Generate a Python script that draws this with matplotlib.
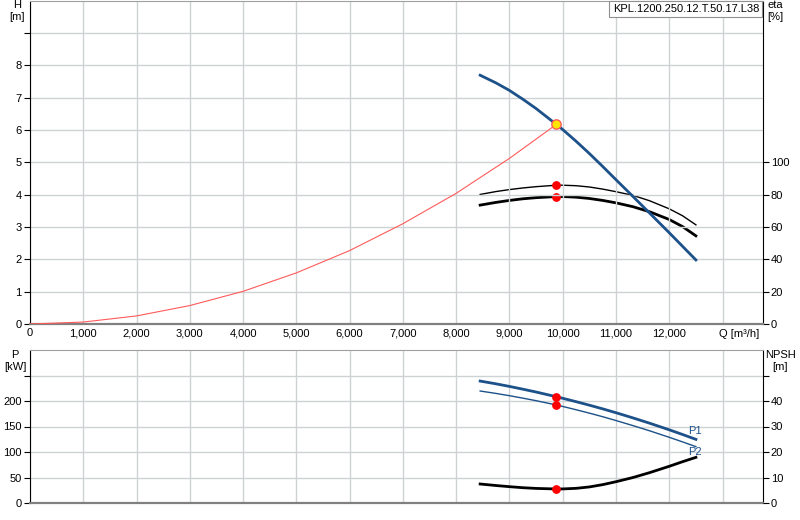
import matplotlib
matplotlib.use("Agg")
import matplotlib.pyplot as plt

# --- data ---
pump_title = "KPL.1200.250.12.T.50.17.L38"

q_pump = [8450, 8750, 9000, 9250, 9500, 9880, 10000, 10250, 10500, 10750,
          11000, 11320, 11630, 12000, 12250, 12500]
head = [7.69, 7.45, 7.22, 6.95, 6.66, 6.17, 6.01, 5.65, 5.27, 4.87,
        4.46, 3.94, 3.43, 2.82, 2.40, 1.98]

q_sys = [0, 1000, 2000, 3000, 4000, 5000, 6000, 7000, 8000, 9000, 9880]
h_sys = [0.0, 0.06, 0.25, 0.57, 1.01, 1.58, 2.27, 3.10, 4.04, 5.12, 6.17]

eta_hyd = [80.1, 81.9, 83.1, 84.1, 84.9, 85.8, 85.8, 85.5, 84.7, 83.4,
           81.8, 79.5, 76.2, 71.2, 66.9, 61.3]
eta_tot = [73.5, 75.2, 76.4, 77.4, 78.1, 78.8, 78.8, 78.4, 77.6, 76.4,
           74.9, 72.5, 69.4, 64.6, 60.2, 54.5]

p1 = [239.1, 233.6, 228.6, 223.2, 217.6, 208.4, 205.3, 198.7, 191.8, 184.6,
      177.0, 166.8, 156.5, 143.5, 134.3, 124.8]
p2 = [219.6, 214.8, 210.4, 205.6, 200.6, 192.2, 189.3, 182.9, 176.2, 169.2,
      161.7, 151.7, 141.6, 128.8, 119.8, 110.5]
npsh = [7.45, 6.85, 6.40, 6.00, 5.72, 5.50, 5.52, 5.75, 6.30, 7.20,
        8.35, 10.0, 11.9, 14.4, 16.2, 17.9]

q_duty = 9880
h_duty = 6.17
eta_duty = [85.8, 78.8]
p_duty = [208.4, 192.2]
npsh_duty = 5.5

q_ticks = [0, 1000, 2000, 3000, 4000, 5000, 6000, 7000, 8000, 9000, 10000, 11000, 12000]
h_ticks = [0, 1, 2, 3, 4, 5, 6, 7, 8]
eta_ticks = [0, 20, 40, 60, 80, 100]
p_ticks = [0, 50, 100, 150, 200]
npsh_ticks = [0, 10, 20, 30, 40]

blue = "#1d5189"
grid_c = "#cfd2d4"
fs = 8

plt.rcParams["font.family"] = ["Liberation Sans", "DejaVu Sans"]
plt.rcParams["font.size"] = fs

fig = plt.figure(figsize=(8, 5.2), dpi=100)
W, H = 800, 520
x0, x1 = 30 / W, 762.5 / W

ax = fig.add_axes([x0, 1 - 324 / H, x1 - x0, 323.5 / H])
ax2 = ax.twinx()
bx = fig.add_axes([x0, 1 - 503 / H, x1 - x0, 153 / H])
bx2 = bx.twinx()

qmax = 13750
for a in (ax, bx):
    a.set_xlim(0, qmax)
    a.set_xticks(q_ticks + [13000])
    a.grid(True, color=grid_c, linewidth=1)
    a.set_axisbelow(True)
    a.spines["left"].set_color("black")
    a.spines["right"].set_color("black")
    a.spines["top"].set_color("#a0a0a0")
    a.spines["bottom"].set_color("#808080")
    a.spines["bottom"].set_linewidth(1.6)
    a.tick_params(axis="x", length=0, pad=3, labelsize=fs)
    a.tick_params(axis="y", length=4, width=0.8, pad=2, labelsize=fs)

# top chart: head, system curve, efficiency
ax.set_ylim(0, 10)
ax.set_yticks(h_ticks + [9])
ax.set_yticklabels([str(v) for v in h_ticks] + [""])
ax.set_xticklabels(["{:,}".format(v) for v in q_ticks] + [""])
ax2.set_ylim(0, 200)
ax2.set_yticks(eta_ticks)
ax2.tick_params(axis="y", length=4, width=0.8, pad=2, labelsize=fs)
for s in ax2.spines.values():
    s.set_visible(False)

ax.plot(q_sys, h_sys, color="#ff5a5a", linewidth=0.8, zorder=3)
ax.plot(q_pump, head, color=blue, linewidth=2.0, zorder=4)
ax2.plot(q_pump, eta_hyd, color="black", linewidth=1.0, zorder=4)
ax2.plot(q_pump, eta_tot, color="black", linewidth=2.0, zorder=4)
ax2.scatter([q_duty, q_duty], eta_duty, s=28, color="red", zorder=6)
ax.scatter([q_duty], [h_duty], s=45, facecolor="#ffe600", edgecolor="#ff5a5a",
           linewidth=1.0, zorder=10)
ax.set_zorder(ax2.get_zorder() + 1)
ax.patch.set_visible(False)

# bottom chart: power and NPSH
bx.set_ylim(0, 300)
bx.set_yticks(p_ticks + [250])
bx.set_yticklabels([str(v) for v in p_ticks] + [""])
bx.set_xticklabels([])
bx2.set_ylim(0, 60)
bx2.set_yticks(npsh_ticks + [50])
bx2.set_yticklabels([str(v) for v in npsh_ticks] + [""])
bx2.tick_params(axis="y", length=4, width=0.8, pad=2, labelsize=fs)
for s in bx2.spines.values():
    s.set_visible(False)

bx.plot(q_pump, p1, color=blue, linewidth=2.0, zorder=4)
bx.plot(q_pump, p2, color=blue, linewidth=1.0, zorder=4)
bx.scatter([q_duty, q_duty], p_duty, s=28, color="red", zorder=6)
bx2.plot(q_pump, npsh, color="black", linewidth=2.0, zorder=4)
bx2.scatter([q_duty], [npsh_duty], s=28, color="red", zorder=6)
bx.text(q_pump[-1] - 20, p1[-1] + 17, "P1", color=blue, ha="center", va="center", fontsize=fs)
bx.text(q_pump[-1] - 20, p2[-1] - 11, "P2", color=blue, ha="center", va="center", fontsize=fs)

# axis captions
fig.text(17 / W, 1 - 11 / H, "H\n[m]", ha="center", va="center", fontsize=fs, linespacing=1.2)
fig.text(775 / W, 1 - 11 / H, "eta\n[%]", ha="center", va="center", fontsize=fs, linespacing=1.2)
fig.text(15 / W, 1 - 361 / H, "P\n[kW]", ha="center", va="center", fontsize=fs, linespacing=1.2)
fig.text(780 / W, 1 - 361 / H, "NPSH\n[m]", ha="center", va="center", fontsize=fs, linespacing=1.2)
fig.text(759 / W, 1 - 334 / H, "Q [m³/h]", ha="right", va="center", fontsize=fs)

fig.text(759 / W, 1 - 9 / H, pump_title, ha="right", va="center", fontsize=fs,
         bbox=dict(boxstyle="square,pad=0.3", facecolor="white", edgecolor="#909090", linewidth=0.8))

fig.savefig("out.png", dpi=100)
